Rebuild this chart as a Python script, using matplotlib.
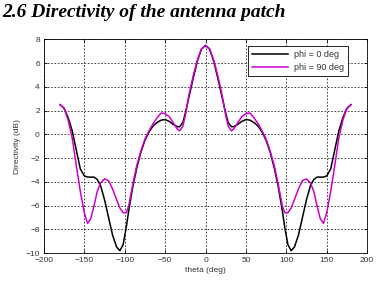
import matplotlib.pyplot as plt

# Directivity (theta in deg, values in dB)
theta = [-180, -175, -170, -165, -160, -155, -150, -146, -142, -138, -134, -130,
         -125, -120, -115, -110, -106, -102, -98, -95, -90, -85, -80, -75, -70,
         -65, -60, -55, -50, -45, -40, -35, -32, -28, -25, -20, -15, -10, -5, 0,
         5, 10, 15, 20, 25, 28, 32, 35, 40, 45, 50, 55, 60, 65, 70, 75, 80, 85,
         90, 95, 98, 102, 106, 110, 115, 120, 125, 130, 134, 138, 142, 146, 150,
         155, 160, 165, 170, 175, 180]

phi0 = [2.5, 2.2, 1.4, 0.3, -1.3, -2.9, -3.5, -3.6, -3.6, -3.6, -3.8, -4.3,
        -5.5, -7.0, -8.5, -9.5, -9.8, -9.3, -7.8, -6.4, -4.4, -2.8, -1.5, -0.5, 0.2,
        0.7, 1.0, 1.2, 1.25, 1.1, 0.85, 0.65, 0.65, 1.0, 1.8, 3.3, 4.8, 6.2, 7.2, 7.5,
        7.2, 6.2, 4.8, 3.3, 1.8, 1.0, 0.65, 0.65, 0.85, 1.1, 1.25, 1.2, 1.0, 0.7, 0.2,
        -0.5, -1.5, -2.8, -4.4, -6.4, -7.8, -9.3, -9.8, -9.5, -8.5, -7.0, -5.5, -4.3,
        -3.8, -3.6, -3.6, -3.6, -3.5, -2.9, -1.3, 0.3, 1.4, 2.2, 2.5]

phi90 = [2.5, 2.2, 1.2, -0.3, -2.6, -4.8, -6.6, -7.5, -7.1, -6.0, -4.8, -4.1,
         -3.75, -3.9, -4.6, -5.5, -6.2, -6.6, -6.6, -6.0, -4.2, -2.6, -1.4, -0.4, 0.3,
         0.9, 1.4, 1.8, 1.75, 1.5, 1.0, 0.45, 0.3, 0.7, 1.6, 3.5, 5.0, 6.3, 7.2, 7.5,
         7.2, 6.3, 5.0, 3.5, 1.6, 0.7, 0.3, 0.45, 1.0, 1.5, 1.75, 1.8, 1.4, 0.9, 0.3,
         -0.4, -1.4, -2.6, -4.2, -6.0, -6.6, -6.6, -6.2, -5.5, -4.6, -3.9, -3.75, -4.1,
         -4.8, -6.0, -7.1, -7.5, -6.6, -4.8, -2.6, -0.3, 1.2, 2.2, 2.5]

fig = plt.figure(figsize=(3.82, 2.84), dpi=100)
fig.text(0.005, 0.985, '2.6 Directivity of the antenna patch', family='Liberation Serif',
         weight='bold', style='italic', fontsize=14, va='top', ha='left')

ax = fig.add_axes([0.115, 0.109, 0.846, 0.752])
ax.plot(theta, phi0, color='black', lw=1.1, label='phi = 0 deg')
ax.plot(theta, phi90, color='#cc00cc', lw=1.1, label='phi = 90 deg')

ax.set_xlim(-200, 200)
ax.set_ylim(-10, 8)
ax.set_xticks(range(-200, 201, 50))
ax.set_yticks(range(-10, 9, 2))
ax.grid(True, color='#222222', linestyle=(0, (2, 2)), linewidth=0.6)
ax.tick_params(direction='in', labelsize=6, length=2, width=0.6, top=True, right=True,
               pad=3, labelcolor='#333333')
for s in ax.spines.values():
    s.set_linewidth(0.6)
for lbl in ax.get_xticklabels() + ax.get_yticklabels():
    lbl.set_family('Liberation Sans')
ax.set_xlabel('theta (deg)', fontsize=6, family='Liberation Sans', labelpad=2, color='#333333')
ax.set_ylabel('Directivity (dB)', fontsize=6, family='Liberation Sans', labelpad=3, color='#333333')

leg = ax.legend(loc='upper right', bbox_to_anchor=(0.941, 0.970),
                prop={'family': 'Liberation Sans', 'size': 6.5},
                fancybox=False, framealpha=1, edgecolor='black', handlelength=4.0,
                borderaxespad=0, borderpad=0.45, labelspacing=0.45, handletextpad=0.6)
leg.get_frame().set_linewidth(0.6)
for t in leg.get_texts():
    t.set_color('#333333')

fig.savefig('out.png', dpi=100)
